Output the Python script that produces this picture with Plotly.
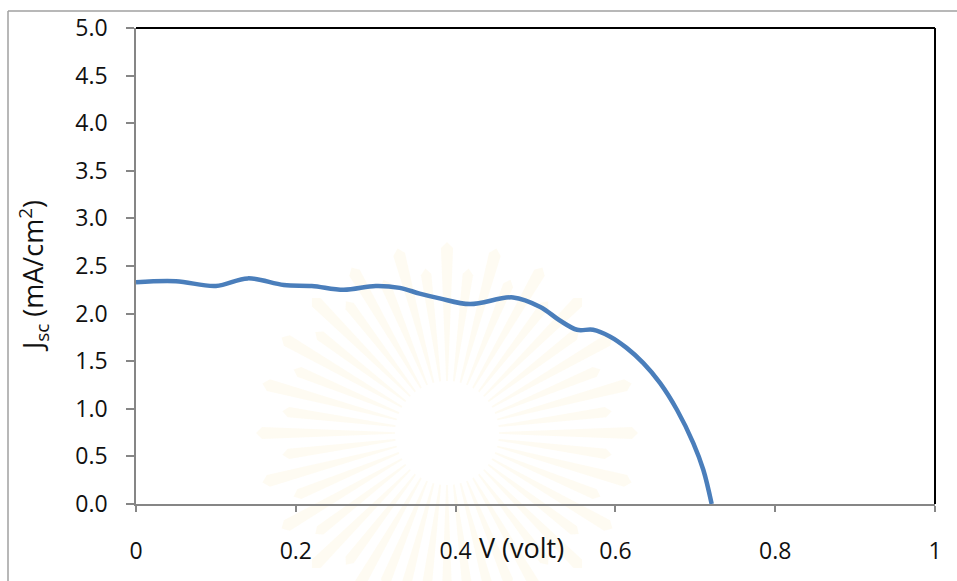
import math
import plotly.graph_objects as go

# J-V curve of the cell (voltage in V, current density in mA/cm^2)
voltage = [0.0, 0.05, 0.10, 0.14, 0.185, 0.22, 0.26, 0.30, 0.33, 0.355, 0.38,
           0.418, 0.472, 0.506, 0.53, 0.552, 0.572, 0.593, 0.614, 0.635, 0.656,
           0.677, 0.6975, 0.710, 0.7205]
current = [2.33, 2.34, 2.29, 2.37, 2.30, 2.29, 2.25, 2.29, 2.27, 2.21, 2.16,
           2.10, 2.17, 2.07, 1.93, 1.83, 1.83, 1.76, 1.64, 1.48, 1.27,
           0.99, 0.64, 0.36, 0.0]

x_ticks = [0, 0.2, 0.4, 0.6, 0.8, 1.0]
x_tick_labels = ["0", "0.2", "0.4", "0.6", "0.8", "1"]
y_ticks = [0.0, 0.5, 1.0, 1.5, 2.0, 2.5, 3.0, 3.5, 4.0, 4.5, 5.0]

W, H = 957, 581
L, R, T, B = 136, 22, 28, 77
PW, PH = W - L - R, H - T - B

FONT = "Open Sans"
FS = 23
TITLE_FS = 27
TEXT_COLOR = "#111111"
AXIS_GREY = "#868686"


def px_to_paper(px, py):
    return (px - L) / PW, (H - B - py) / PH


fig = go.Figure()
fig.add_trace(go.Scatter(
    x=voltage, y=current, mode="lines",
    line=dict(color="#4a7ebb", width=4.5, shape="spline", smoothing=1.0),
    hoverinfo="x+y", showlegend=False,
))

shapes = []

# faint sunburst seal behind the plot
cx, cy = 447, 433
n_rays = 48
for i in range(n_rays):
    a0 = 2 * math.pi * i / n_rays
    half = math.pi / n_rays * 0.5
    r_in = 52
    r_out = 185 if i % 2 == 0 else 160
    pts = [
        (cx + r_in * math.cos(a0 - half * 0.5), cy + r_in * math.sin(a0 - half * 0.5)),
        (cx + r_out * math.cos(a0 - half), cy + r_out * math.sin(a0 - half)),
        (cx + (r_out + 6) * math.cos(a0), cy + (r_out + 6) * math.sin(a0)),
        (cx + r_out * math.cos(a0 + half), cy + r_out * math.sin(a0 + half)),
        (cx + r_in * math.cos(a0 + half * 0.5), cy + r_in * math.sin(a0 + half * 0.5)),
    ]
    path = ""
    for k, (px, py) in enumerate(pts):
        u, v = px_to_paper(px, py)
        path += ("M" if k == 0 else "L") + f"{u:.5f},{v:.5f} "
    path += "Z"
    shapes.append(dict(type="path", xref="paper", yref="paper", path=path,
                       fillcolor="rgba(248,232,175,0.16)", line=dict(width=0),
                       layer="below"))

# black frame on the top and right of the plot area
shapes.append(dict(type="line", xref="paper", yref="paper", x0=0, x1=1, y0=1, y1=1,
                   line=dict(color="black", width=2)))
shapes.append(dict(type="line", xref="paper", yref="paper", x0=1, x1=1, y0=0, y1=1,
                   line=dict(color="black", width=2)))

# outer chart border (top and left edges)
ox0, oy0 = px_to_paper(8, 11)
ox1, oy1 = px_to_paper(W + 5, H + 5)
shapes.append(dict(type="line", xref="paper", yref="paper", x0=ox0, x1=ox1, y0=oy0, y1=oy0,
                   line=dict(color="#a0a0a0", width=1.5)))
shapes.append(dict(type="line", xref="paper", yref="paper", x0=ox0, x1=ox0, y0=oy0, y1=oy1,
                   line=dict(color="#a0a0a0", width=1.5)))

tx, ty = px_to_paper(521, 547)
yx, yy = px_to_paper(33, 276)

fig.update_layout(
    width=W, height=H,
    margin=dict(l=L, r=R, t=T, b=B, pad=0),
    paper_bgcolor="white", plot_bgcolor="rgba(0,0,0,0)",
    font=dict(family=FONT, size=FS, color=TEXT_COLOR),
    xaxis=dict(
        range=[0, 1], tickvals=x_ticks, ticktext=x_tick_labels,
        showgrid=False, zeroline=False, showline=True, linecolor=AXIS_GREY, linewidth=1.5,
        ticks="outside", ticklen=6, tickcolor=AXIS_GREY, tickwidth=1.5,
        ticklabelstandoff=20, tickfont=dict(family=FONT, size=FS, color=TEXT_COLOR),
    ),
    yaxis=dict(
        range=[0, 5], tickvals=y_ticks, tickformat=".1f",
        showgrid=False, zeroline=False, showline=True, linecolor=AXIS_GREY, linewidth=1.5,
        ticks="outside", ticklen=8, tickcolor=AXIS_GREY, tickwidth=1.5,
        ticklabelstandoff=14, tickfont=dict(family=FONT, size=FS, color=TEXT_COLOR),
    ),
    shapes=shapes,
    annotations=[
        dict(text="V (volt)", xref="paper", yref="paper", x=tx, y=ty,
             showarrow=False, xanchor="center", yanchor="middle",
             font=dict(family=FONT, size=TITLE_FS, color=TEXT_COLOR)),
        dict(text="J<sub>sc</sub> (mA/cm<sup>2</sup>)", xref="paper", yref="paper",
             x=yx, y=yy, textangle=-90, showarrow=False,
             xanchor="center", yanchor="middle",
             font=dict(family=FONT, size=TITLE_FS, color=TEXT_COLOR)),
    ],
)

fig.write_html("out.html")
